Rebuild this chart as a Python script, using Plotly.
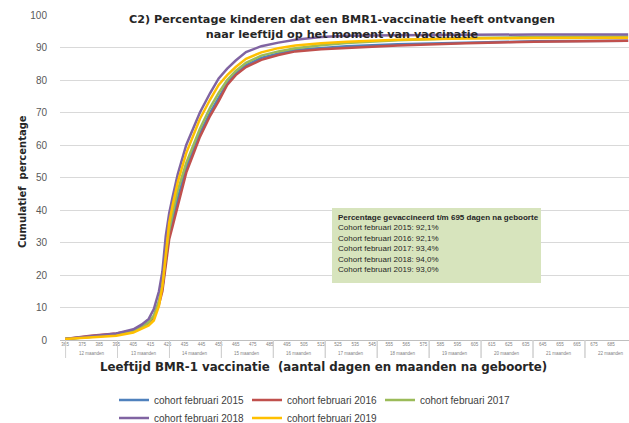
import plotly.graph_objects as go

# ---------------- data ----------------
days = [365, 380, 395, 405, 410, 414, 417, 420, 422, 424, 426, 428, 431, 436, 440,
        444, 450, 455, 460, 465, 471, 480, 490, 500, 515, 530, 560, 600, 640, 695]

cohort_2015 = [0.3, 1.0, 1.7, 2.8, 4.0, 5.5, 7.2, 11.5, 16.0, 24.5, 32.5, 37.0, 43.5, 53.0, 58.5,
               63.5, 70.0, 74.5, 79.0, 82.0, 84.5, 86.8, 88.2, 89.2, 89.9, 90.4, 91.0, 91.5, 91.9, 92.1]
cohort_2016 = [0.3, 1.3, 2.0, 2.9, 4.0, 5.2, 7.0, 11.0, 15.0, 23.0, 31.0, 35.0, 41.0, 51.5, 57.0,
               62.5, 69.0, 73.5, 78.5, 81.5, 84.0, 86.2, 87.7, 88.8, 89.5, 89.9, 90.6, 91.3, 91.8, 92.1]
cohort_2017 = [0.3, 0.9, 1.6, 2.7, 3.9, 5.5, 7.5, 12.0, 17.0, 26.0, 34.0, 39.0, 46.0, 54.5, 60.0,
               65.0, 71.5, 76.0, 80.0, 82.8, 85.3, 87.5, 88.8, 89.8, 90.7, 91.4, 92.2, 92.9, 93.2, 93.4]
cohort_2018 = [0.3, 1.2, 2.0, 3.3, 4.8, 6.5, 9.5, 15.0, 21.0, 32.0, 39.0, 44.0, 51.0, 60.0, 65.0,
               70.0, 76.0, 80.5, 83.5, 86.0, 88.6, 90.4, 91.5, 92.4, 93.2, 93.6, 93.8, 94.0, 94.0, 94.0]
cohort_2019 = [0.3, 0.7, 1.3, 2.3, 3.5, 4.5, 6.0, 10.5, 16.5, 27.0, 36.0, 41.5, 48.5, 57.5, 62.5,
               68.0, 74.0, 78.5, 81.5, 84.0, 86.5, 88.5, 89.8, 90.6, 91.3, 91.8, 92.4, 92.8, 92.9, 93.0]

series_names = ["cohort februari 2015", "cohort februari 2016", "cohort februari 2017",
                "cohort februari 2018", "cohort februari 2019"]
series_values = [cohort_2015, cohort_2016, cohort_2017, cohort_2018, cohort_2019]
series_colors = ["#4F81BD", "#C0504D", "#9BBB59", "#8064A2", "#FFC000"]

tick_days = list(range(365, 696, 10))
tick_labels = [str(d) for d in tick_days]

month_labels = ["12 maanden", "13 maanden", "14 maanden", "15 maanden", "16 maanden", "17 maanden",
                "18 maanden", "19 maanden", "20 maanden", "21 maanden", "22 maanden"]
month_numbers = [12, 13, 14, 15, 16, 17, 18, 19, 20, 21, 22]
days_per_month = 30.44

box_title = "Percentage gevaccineerd t/m 695 dagen na geboorte"
box_lines = ["Cohort februari 2015: 92,1%", "Cohort februari 2016: 92,1%",
             "Cohort februari 2017: 93,4%", "Cohort februari 2018: 94,0%",
             "Cohort februari 2019: 93,0%"]

# ---------------- layout helpers ----------------
W, H = 629, 423
L, R, T, B = 60, 0, 15, 83
PW, PH = W - L - R, H - T - B


def px_x(px):
    return (px - L) / PW


def px_y(py):
    return (H - B - py) / PH


fig = go.Figure()
for i, (name, vals, col) in enumerate(zip(series_names, series_values, series_colors)):
    fig.add_trace(go.Scatter(
        x=days, y=vals, mode="lines", name=name,
        line=dict(color=col, width=2.5),
        legend="legend" if i < 3 else "legend2",
    ))

shapes = []
annotations = []

# month separators and labels
for m, lab in zip(month_numbers, month_labels):
    start = m * days_per_month
    end = (m + 1) * days_per_month
    annotations.append(dict(x=(start + end) / 2, y=px_y(353), xref="x", yref="paper",
                            xanchor="center", yanchor="middle",
                            text=lab, showarrow=False,
                            font=dict(size=4.5, color="#7f7f7f", family="Liberation Sans")))
    for d in (start, end):
        if 362 <= d <= 695.5:
            shapes.append(dict(type="line", xref="x", yref="paper", x0=d, x1=d,
                               y0=0, y1=px_y(358), line=dict(color="#d0d0d0", width=1)))

# title
annotations.append(dict(
    x=px_x(342), y=px_y(27), xref="paper", yref="paper", showarrow=False,
    xanchor="center", yanchor="middle",
    text="<b>C2) Percentage kinderen dat een BMR1-vaccinatie heeft ontvangen<br>"
         "naar leeftijd op het moment van vaccinatie</b>",
    font=dict(size=11.2, color="#262626", family="DejaVu Sans"), align="center"))

# axis titles
annotations.append(dict(
    x=px_x(323), y=px_y(367), xref="paper", yref="paper", showarrow=False,
    xanchor="center", yanchor="middle",
    text="<b>Leeftijd BMR-1 vaccinatie  (aantal dagen en maanden na geboorte)</b>",
    font=dict(size=11.8, color="#262626", family="DejaVu Sans")))
annotations.append(dict(
    x=px_x(22), y=px_y(182), xref="paper", yref="paper", showarrow=False, textangle=-90,
    xanchor="center", yanchor="middle",
    text="<b>Cumulatief  percentage</b>",
    font=dict(size=10, color="#262626", family="DejaVu Sans")))

# green info box
shapes.append(dict(type="rect", xref="paper", yref="paper",
                   x0=px_x(332), x1=px_x(541), y0=px_y(283), y1=px_y(208),
                   fillcolor="#D7E4BD", line=dict(width=0), layer="above"))
annotations.append(dict(
    x=px_x(336), y=px_y(211), xref="paper", yref="paper", showarrow=False,
    xanchor="left", yanchor="top", align="left",
    text="<b>" + box_title + "</b><br>" + "<br>".join(box_lines),
    font=dict(size=8, color="#262626", family="Liberation Sans")))

legend_font = dict(size=10, color="#404040", family="Liberation Sans")
fig.update_layout(
    width=W, height=H,
    margin=dict(l=L, r=R, t=T, b=B, pad=0),
    paper_bgcolor="white", plot_bgcolor="white",
    showlegend=True,
    shapes=shapes, annotations=annotations,
    xaxis=dict(range=[362, 695.5], tickmode="array", tickvals=tick_days, ticktext=tick_labels,
               tickangle=0, automargin=False,
               tickfont=dict(size=4.5, color="#7f7f7f", family="Liberation Sans"),
               showgrid=False, zeroline=False, showline=True, linecolor="#bfbfbf",
               ticks="", fixedrange=True),
    yaxis=dict(range=[0, 100], tickmode="array", tickvals=list(range(0, 101, 10)),
               automargin=False,
               tickfont=dict(size=10, color="#595959", family="Liberation Sans"),
               showgrid=True, gridcolor="#d9d9d9", gridwidth=1, zeroline=False,
               showline=False, ticks="outside", ticklen=10, tickcolor="rgba(0,0,0,0)"),
    legend=dict(orientation="h", xref="container", yref="container",
                x=114 / W, y=(H - 400) / H, xanchor="left", yanchor="middle",
                font=legend_font, itemwidth=30, entrywidth=88, entrywidthmode="pixels",
                tracegroupgap=0, bgcolor="rgba(0,0,0,0)"),
    legend2=dict(orientation="h", xref="container", yref="container",
                 x=114 / W, y=(H - 418) / H, xanchor="left", yanchor="middle",
                 font=legend_font, itemwidth=30, entrywidth=88, entrywidthmode="pixels",
                 tracegroupgap=0, bgcolor="rgba(0,0,0,0)"),
)

fig.write_html("out.html", config={"displayModeBar": False},
               post_script="document.body.style.margin='0';document.body.style.overflow='hidden';")
